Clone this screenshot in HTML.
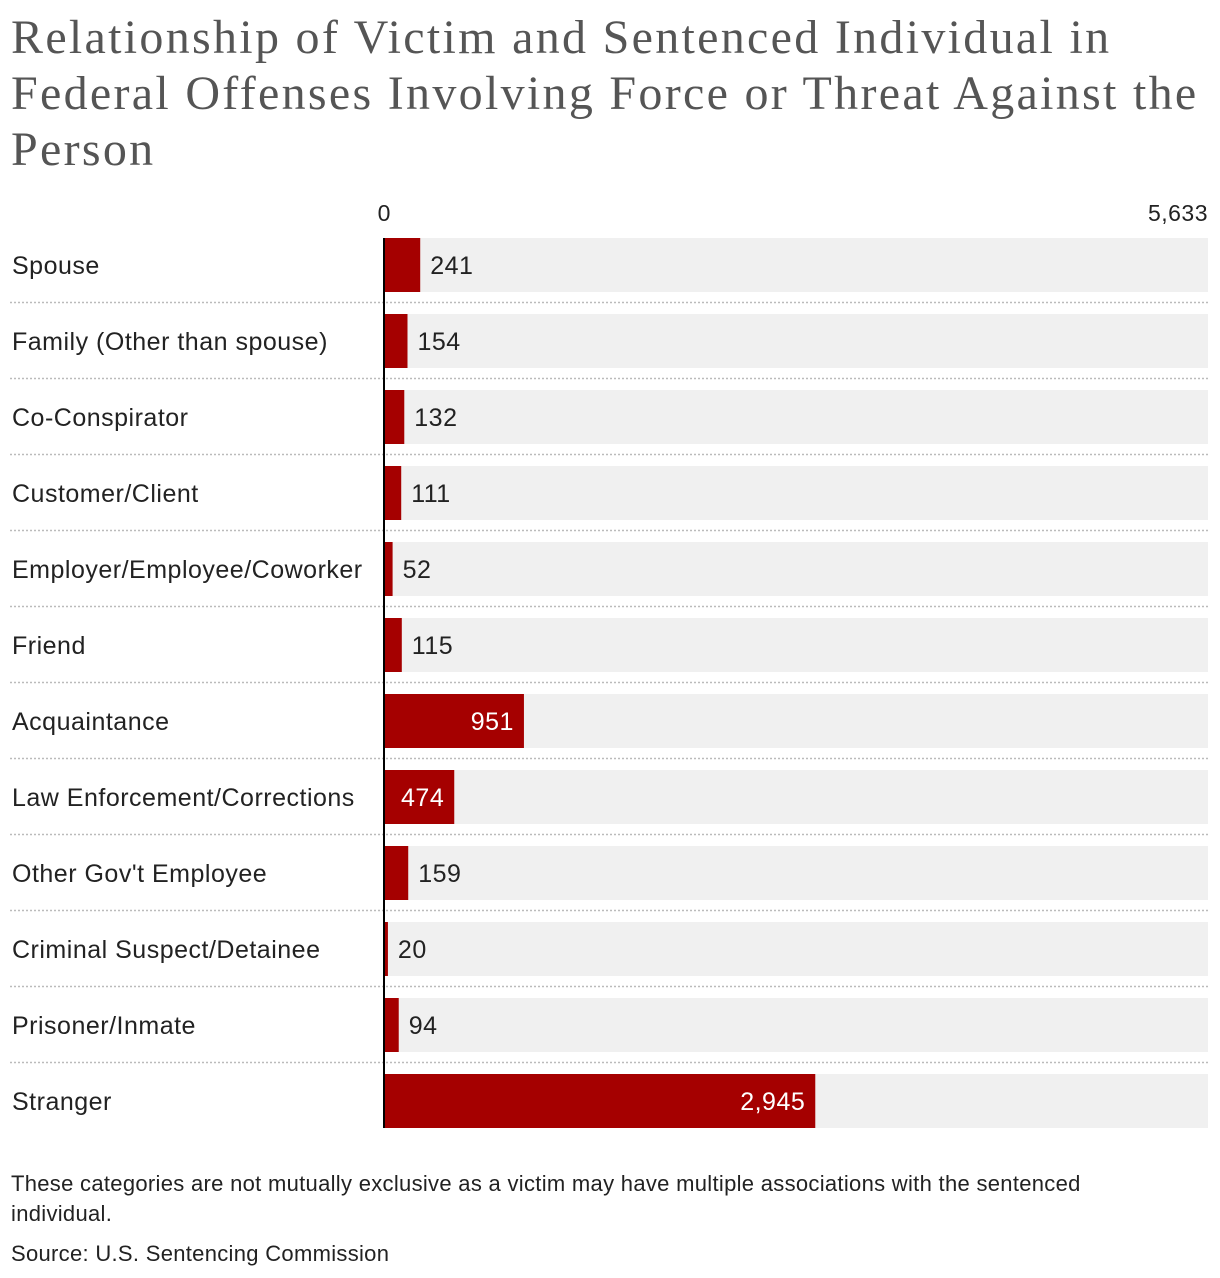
<!DOCTYPE html>
<html><head><meta charset="utf-8">
<style>
body{margin:0;background:#fff;width:1220px;height:1278px;overflow:hidden;font-family:"Liberation Sans",sans-serif;}
#title{position:absolute;left:11px;top:10px;width:1210px;font-family:"Liberation Serif",serif;font-size:48px;line-height:56px;color:#555;margin:0;font-weight:normal;letter-spacing:2.3px;white-space:nowrap;}
.note{position:absolute;left:11px;font-size:22px;letter-spacing:0.3px;color:#222;line-height:30px;}
</style></head><body>
<h1 id="title">Relationship of Victim and Sentenced Individual in<br>Federal Offenses Involving Force or Threat Against the<br>Person</h1>
<svg id="chart" width="1220" height="1278" style="position:absolute;left:0;top:0"></svg>
<div class="note" style="top:1169px;width:1110px">These categories are not mutually exclusive as a victim may have multiple associations with the sentenced individual.</div>
<div class="note" style="top:1239px">Source: U.S. Sentencing Commission</div>
<script>
const categories=["Spouse","Family (Other than spouse)","Co-Conspirator","Customer/Client","Employer/Employee/Coworker","Friend","Acquaintance","Law Enforcement/Corrections","Other Gov't Employee","Criminal Suspect/Detainee","Prisoner/Inmate","Stranger"];
const values=[241,154,132,111,52,115,951,474,159,20,94,2945];
const maxValue=5633;
const tickLabels=["0","5,633"];
const NS="http://www.w3.org/2000/svg";
const svg=document.getElementById('chart');
const x0=385,x1=1208,top0=238,pitch=76,bh=54;
const xs=v=>x0+(v/maxValue)*(x1-x0);
function mk(t,a){const e=document.createElementNS(NS,t);for(const k in a)e.setAttribute(k,a[k]);svg.appendChild(e);return e;}
const fmt=v=>v.toLocaleString('en-US');
const t0=mk('text',{x:384,y:221,'text-anchor':'middle','font-size':23,fill:'#222'});t0.textContent=tickLabels[0];


const t1=mk('text',{x:1208,y:221,'text-anchor':'end','font-size':23,'letter-spacing':0.5,fill:'#222'});t1.textContent=tickLabels[1];


categories.forEach((c,i)=>{
  const y=top0+i*pitch;
  const bg=mk('rect',{x:x0,y:y,width:x1-x0,height:bh,fill:'#f0f0f0'});
  
  
  const b=mk('rect',{x:x0,y:y,width:xs(values[i])-x0,height:bh,fill:'#a50000'});
  
  
  const lab=mk('text',{x:12,y:y+36,'font-size':25,'letter-spacing':0.5,fill:'#222'});lab.textContent=c;
  
  
  const w=xs(values[i])-x0;const inside=w>60;
  const vl=mk('text',{x:inside?xs(values[i])-10:xs(values[i])+10,y:y+36,'font-size':25,'letter-spacing':0.5,fill:inside?'#fff':'#222','text-anchor':inside?'end':'start'});
  vl.textContent=fmt(values[i]);
  
  
  if(i<categories.length-1){
    const s=mk('line',{x1:10,x2:1208,y1:y+64.5,y2:y+64.5,stroke:'#bbb','stroke-width':1.5,'stroke-dasharray':'2,2'});
    
    
  }
});
const ax=mk('line',{x1:384,x2:384,y1:238,y2:1128,stroke:'#000','stroke-width':2});


</script>
</body></html>
